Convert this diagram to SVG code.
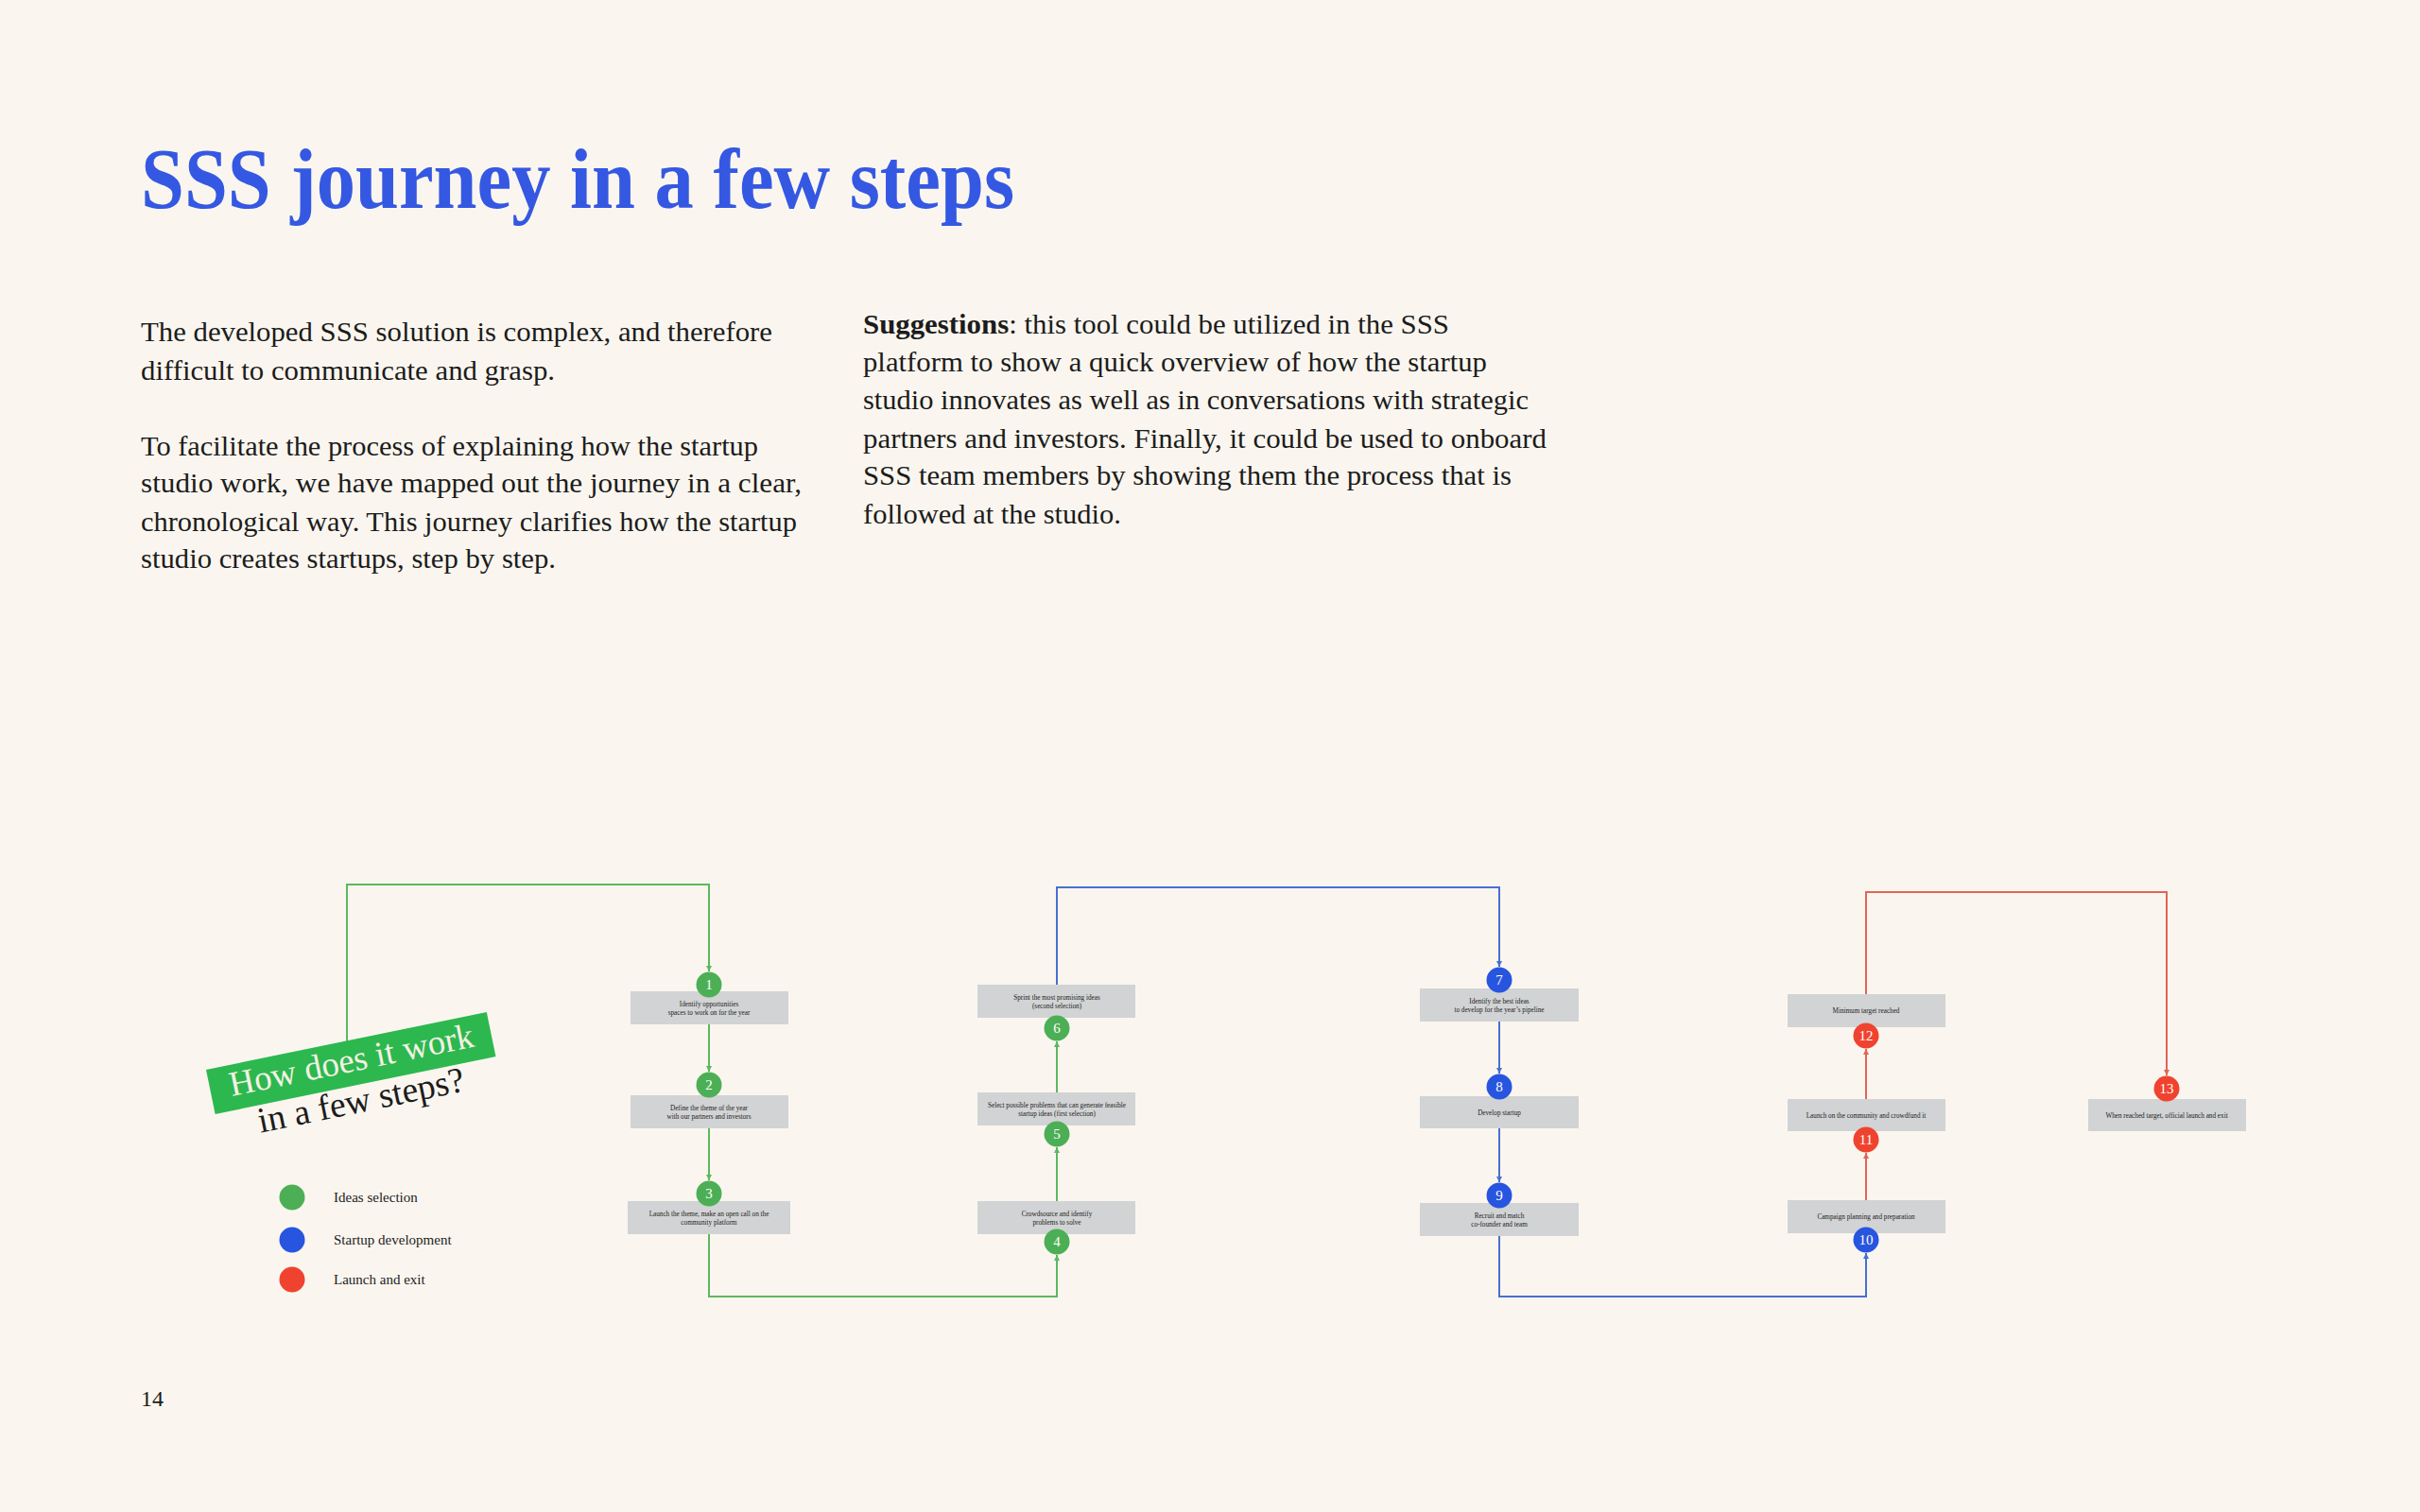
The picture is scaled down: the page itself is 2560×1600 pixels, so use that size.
<svg xmlns="http://www.w3.org/2000/svg" width="2560" height="1600" viewBox="0 0 2560 1600">
<defs>
<style>
.title{font-family:"Liberation Serif","Times New Roman",serif;font-weight:bold;font-size:90px;fill:#3558e3}
.body{font-family:"Liberation Serif","Times New Roman",serif;font-size:29.5px;fill:#1c1c1c}
.box{fill:#d1d3d4}
.bt{font-family:"Liberation Serif","Times New Roman",serif;font-size:7.2px;fill:#222;text-anchor:middle}
.num{font-family:"Liberation Serif","Times New Roman",serif;font-size:15px;fill:#ffffff;text-anchor:middle}
.lg{font-family:"Liberation Serif","Times New Roman",serif;font-size:15px;fill:#222}
.g{fill:#4caf55}.b{fill:#2755e0}.r{fill:#f0432f}
.cg{fill:none;stroke:#5cb85f;stroke-width:2}
.cb{fill:none;stroke:#4a6fd2;stroke-width:2}
.cr{fill:none;stroke:#de6658;stroke-width:2}
</style>
<marker id="ag" viewBox="0 0 6 6" refX="6" refY="3" markerWidth="6" markerHeight="6" markerUnits="userSpaceOnUse" orient="auto"><path d="M0,0 L6,3 L0,6 z" fill="#5cb85f"/></marker>
<marker id="ab" viewBox="0 0 6 6" refX="6" refY="3" markerWidth="6" markerHeight="6" markerUnits="userSpaceOnUse" orient="auto"><path d="M0,0 L6,3 L0,6 z" fill="#4a6fd2"/></marker>
<marker id="ar" viewBox="0 0 6 6" refX="6" refY="3" markerWidth="6" markerHeight="6" markerUnits="userSpaceOnUse" orient="auto"><path d="M0,0 L6,3 L0,6 z" fill="#de6658"/></marker>
</defs>
<rect width="2560" height="1600" fill="#faf6ef"/>

<g id="header">
<text class="title" x="149" y="220" textLength="924" lengthAdjust="spacingAndGlyphs">SSS journey in a few steps</text>
<text class="body" x="149" y="361" textLength="668" lengthAdjust="spacingAndGlyphs">The developed SSS solution is complex, and therefore</text>
<text class="body" x="149" y="402" textLength="438" lengthAdjust="spacingAndGlyphs">difficult to communicate and grasp.</text>
<text class="body" x="149" y="482" textLength="653" lengthAdjust="spacingAndGlyphs">To facilitate the process of explaining how the startup</text>
<text class="body" x="149" y="521" textLength="699" lengthAdjust="spacingAndGlyphs">studio work, we have mapped out the journey in a clear,</text>
<text class="body" x="149" y="562" textLength="694" lengthAdjust="spacingAndGlyphs">chronological way. This journey clarifies how the startup</text>
<text class="body" x="149" y="601" textLength="439" lengthAdjust="spacingAndGlyphs">studio creates startups, step by step.</text>
<text class="body" x="913" y="353" textLength="620" lengthAdjust="spacingAndGlyphs"><tspan font-weight="bold">Suggestions</tspan>: this tool could be utilized in the SSS</text>
<text class="body" x="913" y="393" textLength="660" lengthAdjust="spacingAndGlyphs">platform to show a quick overview of how the startup</text>
<text class="body" x="913" y="433" textLength="704" lengthAdjust="spacingAndGlyphs">studio innovates as well as in conversations with strategic</text>
<text class="body" x="913" y="474" textLength="723" lengthAdjust="spacingAndGlyphs">partners and investors. Finally, it could be used to onboard</text>
<text class="body" x="913" y="513" textLength="686" lengthAdjust="spacingAndGlyphs">SSS team members by showing them the process that is</text>
<text class="body" x="913" y="554" textLength="273" lengthAdjust="spacingAndGlyphs">followed at the studio.</text>
<text class="body" x="149" y="1488" style="font-size:24px">14</text>
</g>

<g id="connectors">
<path class="cg" d="M367,1102 V936 H750 V1028" marker-end="url(#ag)"/>
<path class="cg" d="M750,1084 V1134" marker-end="url(#ag)"/>
<path class="cg" d="M750,1194 V1249" marker-end="url(#ag)"/>
<path class="cg" d="M750,1306 V1372 H1118 V1328" marker-end="url(#ag)"/>
<path class="cg" d="M1118,1271 V1214" marker-end="url(#ag)"/>
<path class="cg" d="M1118,1156 V1102" marker-end="url(#ag)"/>
<path class="cb" d="M1118,1042 V939 H1586 V1023" marker-end="url(#ab)"/>
<path class="cb" d="M1586,1081 V1136" marker-end="url(#ab)"/>
<path class="cb" d="M1586,1194 V1251" marker-end="url(#ab)"/>
<path class="cb" d="M1586,1308 V1372 H1974 V1326" marker-end="url(#ab)"/>
<path class="cr" d="M1974,1270 V1220" marker-end="url(#ar)"/>
<path class="cr" d="M1974,1163 V1110" marker-end="url(#ar)"/>
<path class="cr" d="M1974,1052 V944 H2292 V1138" marker-end="url(#ar)"/>
</g>

<g id="heading" transform="translate(218,1132) rotate(-11.6)">
<rect x="0" y="0" width="303" height="48" fill="#2cb84f"/>
<text x="21" y="33" font-family="Liberation Serif, Times New Roman, serif" font-size="37" fill="#f4f0e4" textLength="263" lengthAdjust="spacingAndGlyphs">How does it work</text>
<text x="43" y="77" font-family="Liberation Serif, Times New Roman, serif" font-size="38" fill="#1c1c1c" textLength="222" lengthAdjust="spacingAndGlyphs">in a few steps?</text>
</g>

<g id="legend">
<circle class="g" cx="309" cy="1267" r="13.5"/>
<text class="lg" x="353" y="1272">Ideas selection</text>
<circle class="b" cx="309" cy="1312" r="13.5"/>
<text class="lg" x="353" y="1317">Startup development</text>
<circle class="r" cx="309" cy="1354" r="13.5"/>
<text class="lg" x="353" y="1359">Launch and exit</text>
</g>

<g id="node1">
<rect class="box" x="667" y="1049" width="167" height="35"/>
<text class="bt" x="750" y="1064.5">Identify opportunities</text>
<text class="bt" x="750" y="1073.5">spaces to work on for the year</text>
<circle class="g" cx="750" cy="1042" r="13.5"/>
<text class="num" x="750" y="1047">1</text>
</g>
<g id="node2">
<rect class="box" x="667" y="1159" width="167" height="35"/>
<text class="bt" x="750" y="1174.5">Define the theme of the year</text>
<text class="bt" x="750" y="1183.5">with our partners and investors</text>
<circle class="g" cx="750" cy="1148" r="13.5"/>
<text class="num" x="750" y="1153">2</text>
</g>
<g id="node3">
<rect class="box" x="664" y="1271" width="172" height="35"/>
<text class="bt" x="750" y="1286.5">Launch the theme, make an open call on the</text>
<text class="bt" x="750" y="1295.5">community platform</text>
<circle class="g" cx="750" cy="1263" r="13.5"/>
<text class="num" x="750" y="1268">3</text>
</g>
<g id="node4">
<rect class="box" x="1034" y="1271" width="167" height="35"/>
<text class="bt" x="1118" y="1286.5">Crowdsource and identify</text>
<text class="bt" x="1118" y="1295.5">problems to solve</text>
<circle class="g" cx="1118" cy="1314" r="13.5"/>
<text class="num" x="1118" y="1319">4</text>
</g>
<g id="node5">
<rect class="box" x="1034" y="1156" width="167" height="35"/>
<text class="bt" x="1118" y="1171.5">Select possible problems that can generate feasible</text>
<text class="bt" x="1118" y="1180.5">startup ideas (first selection)</text>
<circle class="g" cx="1118" cy="1200" r="13.5"/>
<text class="num" x="1118" y="1205">5</text>
</g>
<g id="node6">
<rect class="box" x="1034" y="1042" width="167" height="35"/>
<text class="bt" x="1118" y="1057.5">Sprint the most promising ideas</text>
<text class="bt" x="1118" y="1066.5">(second selection)</text>
<circle class="g" cx="1118" cy="1088" r="13.5"/>
<text class="num" x="1118" y="1093">6</text>
</g>
<g id="node7">
<rect class="box" x="1502" y="1046" width="168" height="35"/>
<text class="bt" x="1586" y="1061.5">Identify the best ideas</text>
<text class="bt" x="1586" y="1070.5">to develop for the year’s pipeline</text>
<circle class="b" cx="1586" cy="1037" r="13.5"/>
<text class="num" x="1586" y="1042">7</text>
</g>
<g id="node8">
<rect class="box" x="1502" y="1160" width="168" height="34"/>
<text class="bt" x="1586" y="1179.5">Develop startup</text>
<circle class="b" cx="1586" cy="1150" r="13.5"/>
<text class="num" x="1586" y="1155">8</text>
</g>
<g id="node9">
<rect class="box" x="1502" y="1273" width="168" height="35"/>
<text class="bt" x="1586" y="1288.5">Recruit and match</text>
<text class="bt" x="1586" y="1297.5">co-founder and team</text>
<circle class="b" cx="1586" cy="1265" r="13.5"/>
<text class="num" x="1586" y="1270">9</text>
</g>
<g id="node10">
<rect class="box" x="1891" y="1270" width="167" height="35"/>
<text class="bt" x="1974" y="1290">Campaign planning and preparation</text>
<circle class="b" cx="1974" cy="1312" r="13.5"/>
<text class="num" x="1974" y="1317">10</text>
</g>
<g id="node11">
<rect class="box" x="1891" y="1163" width="167" height="34"/>
<text class="bt" x="1974" y="1182.5">Launch on the community and crowdfund it</text>
<circle class="r" cx="1974" cy="1206" r="13.5"/>
<text class="num" x="1974" y="1211">11</text>
</g>
<g id="node12">
<rect class="box" x="1891" y="1052" width="167" height="35"/>
<text class="bt" x="1974" y="1072">Minimum target reached</text>
<circle class="r" cx="1974" cy="1096" r="13.5"/>
<text class="num" x="1974" y="1101">12</text>
</g>
<g id="node13">
<rect class="box" x="2209" y="1163" width="167" height="34"/>
<text class="bt" x="2292" y="1182.5">When reached target, official launch and exit</text>
<circle class="r" cx="2292" cy="1152" r="13.5"/>
<text class="num" x="2292" y="1157">13</text>
</g>
</svg>
